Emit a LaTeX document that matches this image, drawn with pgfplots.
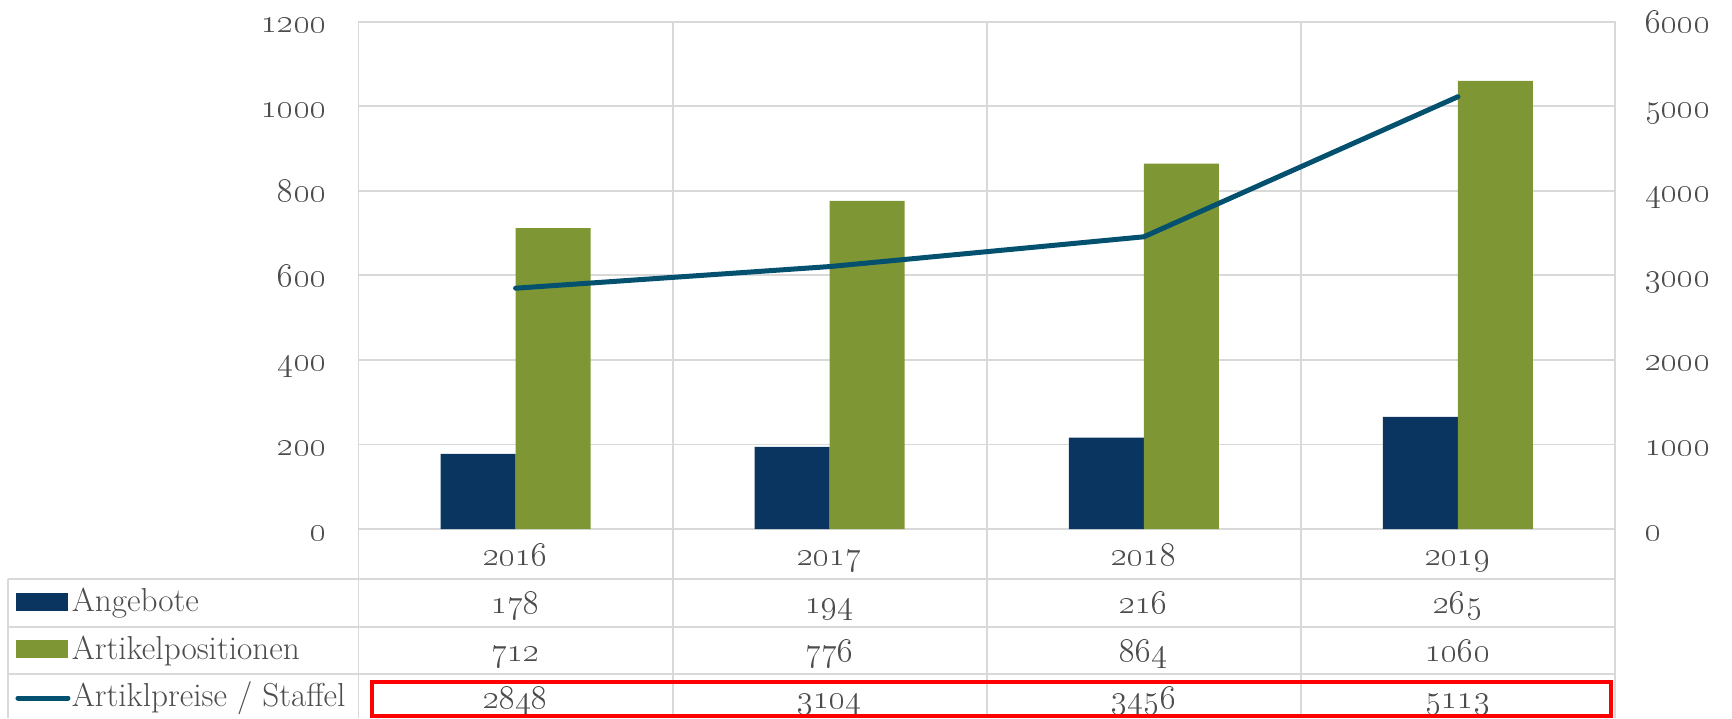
\documentclass[border=0pt]{standalone}
\usepackage{pgfplots}
\pgfplotsset{compat=1.18}
\definecolor{navy}{HTML}{0A3560}
\definecolor{olive}{HTML}{7E9633}
\definecolor{teal}{HTML}{03506F}
\definecolor{gridgray}{HTML}{D9D9D9}
\definecolor{txt}{HTML}{4D4D4D}
\newcommand{\fs}{\fontsize{17}{20}\selectfont}
\newcommand{\fl}{\fontsize{16.6}{20}\selectfont}
\newcommand{\osn}[1]{\oldstylenums{#1}}
\begin{document}
\begin{tikzpicture}
\useasboundingbox (-179.25pt,-94.5pt) rectangle (686.75pt,264.5pt);
\begin{axis}[
  at={(0pt,0pt)}, anchor=south west,
  scale only axis, width=628.25pt, height=253.65pt,
  xmin=-0.5, xmax=3.5, ymin=0, ymax=1200,
  ybar=0pt, bar width=37.5pt,
  xtick={0,1,2,3}, xticklabels={}, 
  minor xtick={-0.5,0.5,1.5,2.5,3.5},
  xminorgrids, ymajorgrids,
  minor x grid style={draw=gridgray, line width=0.9pt},
  major y grid style={draw=gridgray, line width=0.9pt},
  axis line style={draw=gridgray, line width=0.9pt},
  major tick length=0pt, minor tick length=0pt,
  ytick={0,200,400,600,800,1000,1200},
  yticklabels={\osn{0},\osn{200},\osn{400},\osn{600},\osn{800},\osn{1000},\osn{1200}},
  yticklabel style={anchor=base east, inner sep=0pt, xshift=-15.75pt, yshift=-5.5pt, font=\fs, text=txt},
  clip=false,
]
\addplot[fill=navy, draw=none] coordinates {(0,178) (1,194) (2,216) (3,265)};
\addplot[fill=olive, draw=none] coordinates {(0,712) (1,776) (2,864) (3,1060)};
\end{axis}
\begin{axis}[
  at={(0pt,0pt)}, anchor=south west,
  scale only axis, width=628.25pt, height=253.65pt,
  xmin=-0.5, xmax=3.5, ymin=0, ymax=6000,
  axis x line=none, axis y line*=right,
  axis line style={draw=gridgray, line width=0.9pt},
  major tick length=0pt,
  ytick={0,1000,2000,3000,4000,5000,6000},
  yticklabels={\osn{0},\osn{1000},\osn{2000},\osn{3000},\osn{4000},\osn{5000},\osn{6000}},
  yticklabel style={anchor=base west, inner sep=0pt, xshift=15pt, yshift=-5.5pt, font=\fs, text=txt},
  clip=false,
]
\addplot[teal, line width=2.5pt, line cap=round, line join=miter, mark=none] coordinates {(0,2848) (1,3104) (2,3456) (3,5113)};
\end{axis}
% data table
\begin{scope}[draw=gridgray, line width=0.9pt]
  \foreach \x in {0,157.0625,314.125,471.1875,628.25} {\draw (\x pt,0pt) -- (\x pt,-94.5pt);}
  \draw (-175.25pt,-25pt) -- (628.25pt,-25pt);
  \draw (-175.25pt,-49pt) -- (628.25pt,-49pt);
  \draw (-175.25pt,-72.5pt) -- (628.25pt,-72.5pt);
  \draw (-175.25pt,-25pt) -- (-175.25pt,-94.5pt);
\end{scope}
\begin{scope}[every node/.style={font=\fs, text=txt, anchor=base, inner sep=0pt}]
  \node at (78.53pt,-18pt) {\osn{2016}};
  \node at (235.59pt,-18pt) {\osn{2017}};
  \node at (392.66pt,-18pt) {\osn{2018}};
  \node at (549.72pt,-18pt) {\osn{2019}};
  \node at (78.53pt,-42pt) {\osn{178}};
  \node at (235.59pt,-42pt) {\osn{194}};
  \node at (392.66pt,-42pt) {\osn{216}};
  \node at (549.72pt,-42pt) {\osn{265}};
  \node at (78.53pt,-66pt) {\osn{712}};
  \node at (235.59pt,-66pt) {\osn{776}};
  \node at (392.66pt,-66pt) {\osn{864}};
  \node at (549.72pt,-66pt) {\osn{1060}};
  \node at (78.53pt,-89.5pt) {\osn{2848}};
  \node at (235.59pt,-89.5pt) {\osn{3104}};
  \node at (392.66pt,-89.5pt) {\osn{3456}};
  \node at (549.72pt,-89.5pt) {\osn{5113}};
  \node[anchor=base west, font=\fl] at (-143.5pt,-41pt) {Angebote};
  \node[anchor=base west, font=\fl] at (-143.5pt,-65pt) {Artikelpositionen};
  \node[anchor=base west, font=\fl] at (-143.5pt,-88.5pt) {Artiklpreise / Staffel};
\end{scope}
\fill[navy] (-171.25pt,-32pt) rectangle (-145.25pt,-41pt);
\fill[olive] (-171.25pt,-55.5pt) rectangle (-145.25pt,-64.5pt);
\draw[teal, line width=2.5pt, line cap=round] (-170.25pt,-84.5pt) -- (-145.25pt,-84.5pt);
\draw[red, line width=2pt] (6.75pt,-76.5pt) rectangle (626.25pt,-93.5pt);
\end{tikzpicture}
\end{document}
